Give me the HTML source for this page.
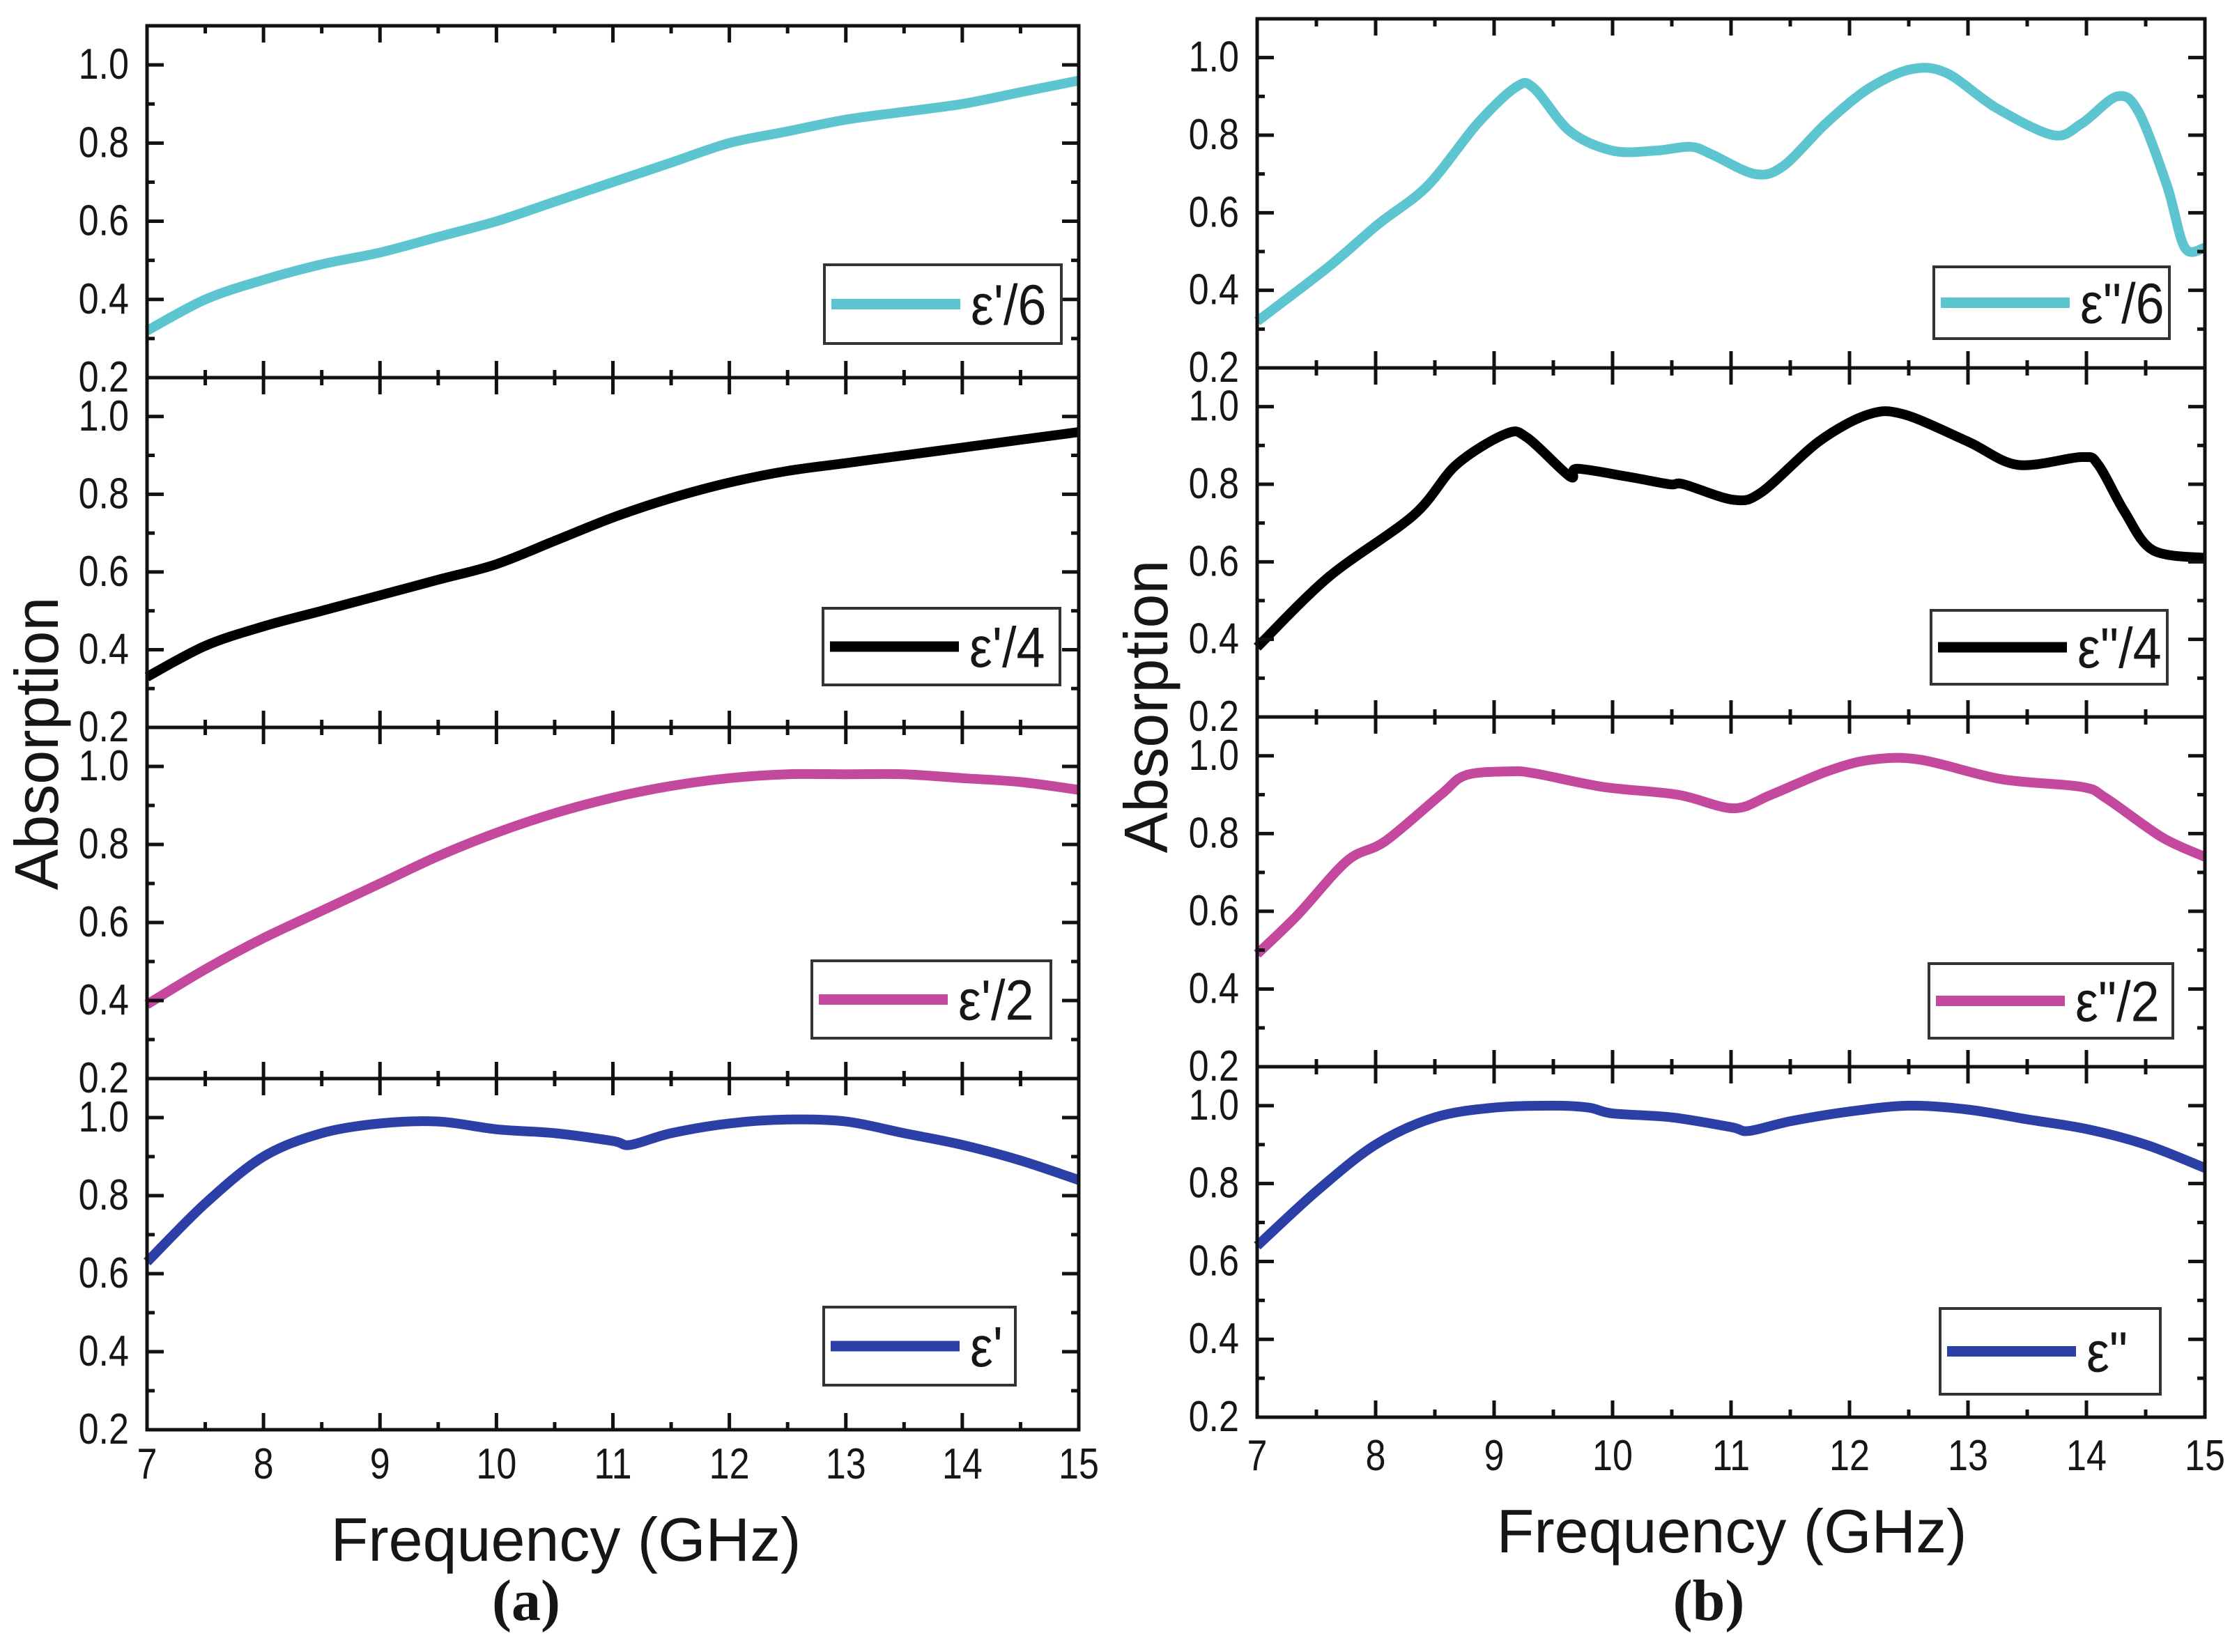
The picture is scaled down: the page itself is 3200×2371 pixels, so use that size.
<!DOCTYPE html>
<html><head><meta charset="utf-8"><style>
html,body{margin:0;padding:0;background:#fff;}
svg{display:block;}
text{font-family:"Liberation Sans",sans-serif;fill:#161616;}
</style></head><body>
<svg id="fig" width="3200" height="2371" viewBox="0 0 3200 2371" xmlns="http://www.w3.org/2000/svg"></svg>
<script>
// ---- data ----
const xTicks = [7,8,9,10,11,12,13,14,15];
const yTicks = [0.2,0.4,0.6,0.8,1.0];
const yTickLabels = ["0.2","0.4","0.6","0.8","1.0"];

const aCyanX = [7,7.5,8,8.5,9,9.5,10,10.5,11,11.5,12,12.5,13,13.5,14,14.5,15];
const aCyanY = [0.32,0.40,0.45,0.49,0.52,0.56,0.60,0.65,0.70,0.75,0.80,0.83,0.86,0.88,0.90,0.93,0.96];
const aBlackX = [7,7.5,8,8.5,9,9.5,10,10.5,11,11.5,12,12.5,13,13.5,14,14.5,15];
const aBlackY = [0.33,0.41,0.46,0.50,0.54,0.58,0.62,0.68,0.74,0.79,0.83,0.86,0.88,0.90,0.92,0.94,0.96];
const aMagX = [7,7.5,8,8.5,9,9.5,10,10.5,11,11.5,12,12.5,13,13.5,14,14.5,15];
const aMagY = [0.39,0.48,0.56,0.63,0.70,0.77,0.83,0.88,0.92,0.95,0.97,0.98,0.98,0.98,0.97,0.96,0.94];
const aBlueX = [7,7.5,8,8.5,9,9.5,10,10.5,11,11.15,11.5,12,12.5,13,13.5,14,14.5,15];
const aBlueY = [0.63,0.78,0.90,0.96,0.985,0.99,0.97,0.96,0.94,0.93,0.96,0.985,0.995,0.99,0.96,0.93,0.89,0.84];

const bCyanX = [7,7.6,8.02,8.44,8.86,9.19,9.34,9.64,10.0,10.36,10.66,10.84,11.2,11.44,11.8,12.16,12.52,12.82,13.24,13.72,13.96,14.26,14.44,14.68,14.83,15];
const bCyanY = [0.32,0.46,0.57,0.67,0.83,0.925,0.92,0.81,0.76,0.76,0.77,0.75,0.70,0.72,0.83,0.92,0.97,0.96,0.87,0.80,0.83,0.90,0.86,0.67,0.51,0.51];
const bBlackX = [7,7.6,8.32,8.68,9.1,9.28,9.64,9.7,10.12,10.48,10.6,11.02,11.26,11.74,12.16,12.46,13.0,13.42,13.96,14.1,14.32,14.56,15];
const bBlackY = [0.38,0.56,0.72,0.85,0.93,0.92,0.82,0.84,0.82,0.80,0.80,0.76,0.78,0.91,0.98,0.98,0.91,0.85,0.87,0.85,0.73,0.63,0.61];
const bMagX = [7,7.34,7.76,8.08,8.55,8.76,9.13,9.34,9.92,10.55,11.02,11.34,11.81,12.18,12.6,13.28,13.96,14.17,14.64,15];
const bMagY = [0.49,0.59,0.73,0.78,0.90,0.95,0.96,0.955,0.92,0.90,0.865,0.90,0.96,0.99,0.99,0.94,0.92,0.89,0.79,0.74];
const bBlueX = [7,7.5,8,8.5,9,9.5,9.8,10,10.5,11,11.15,11.5,12,12.5,13,13.5,14,14.5,15];
const bBlueY = [0.64,0.78,0.90,0.97,0.995,1.0,0.995,0.98,0.97,0.945,0.935,0.96,0.985,1.0,0.99,0.965,0.94,0.90,0.84];

const legendA = ["ε'/6","ε'/4","ε'/2","ε'"];
const legendB = ['ε"/6','ε"/4','ε"/2','ε"'];
const colors = ["#5cc5cf","#000000","#c4489d","#2c3fa6"];

// ---- layout ----
const NS = "http://www.w3.org/2000/svg";
const svg = document.getElementById('fig');
function mk(tag, attrs, parent){const e=document.createElementNS(NS,tag);for(const k in attrs)e.setAttribute(k,attrs[k]);(parent||svg).appendChild(e);return e;}
function smoothPath(P){
  let d='M'+P[0][0].toFixed(1)+','+P[0][1].toFixed(1);
  for(let i=0;i<P.length-1;i++){
    const p0=P[Math.max(0,i-1)],p1=P[i],p2=P[i+1],p3=P[Math.min(P.length-1,i+2)];
    const t=0.16;
    const c1=[p1[0]+(p2[0]-p0[0])*t,p1[1]+(p2[1]-p0[1])*t];
    const c2=[p2[0]-(p3[0]-p1[0])*t,p2[1]-(p3[1]-p1[1])*t];
    d+='C'+c1[0].toFixed(1)+','+c1[1].toFixed(1)+' '+c2[0].toFixed(1)+','+c2[1].toFixed(1)+' '+p2[0].toFixed(1)+','+p2[1].toFixed(1);
  }
  return d;
}

const figs = [
  {x0:211,x1:1548,tops:[37,542,1044,1548,2052],legend:legendA,
   series:[[aCyanX,aCyanY],[aBlackX,aBlackY],[aMagX,aMagY],[aBlueX,aBlueY]],
   boxes:[[1183,380,1523,493],[1181,873,1521,983],[1165,1379,1508,1490],[1182,1876,1457,1988]],
   xLabY:2122, title:[812,2240], tag:"(a)", tagPos:[755,2325], absX:83, absY:1067, name:"a"},
  {x0:1804,x1:3164,tops:[27,528,1029,1531,2034],legend:legendB,
   series:[[bCyanX,bCyanY],[bBlackX,bBlackY],[bMagX,bMagY],[bBlueX,bBlueY]],
   boxes:[[2775,383,3113,486],[2771,876,3110,982],[2768,1383,3118,1490],[2784,1878,3100,2001]],
   xLabY:2110, title:[2485,2228], tag:"(b)", tagPos:[2452,2325], absX:1675, absY:1014, name:"b"}
];
const YMIN=0.2, YMAX=1.1;

figs.forEach((f)=>{
  const g = mk('g',{});
  
  
  const xs = v => f.x0 + (v-7)/8*(f.x1-f.x0);
  for(let p=0;p<4;p++){
    const top=f.tops[p], bot=f.tops[p+1];
    const ys = v => bot - (v-YMIN)/(YMAX-YMIN)*(bot-top);
    const pg = mk('g',{},g);
    
    
    const [sx,sy]=f.series[p];
    const pts=sx.map((v,i)=>[xs(v),ys(sy[i])]);
    const line=mk('path',{d:smoothPath(pts),fill:'none',stroke:colors[p],'stroke-width':14,'stroke-linejoin':'round','stroke-linecap':'butt'},pg);
    
    
    const fr=mk('rect',{x:f.x0,y:top,width:f.x1-f.x0,height:bot-top,fill:'none',stroke:'#111','stroke-width':5},pg);
    
    
    for(let v=2; v<=11; v++){
      const val=v/10, y=ys(val), major=(v%2===0);
      const L = major?24:11;
      mk('line',{x1:f.x0,x2:f.x0+L,y1:y,y2:y,stroke:'#111','stroke-width':5},pg);
      mk('line',{x1:f.x1,x2:f.x1-L,y1:y,y2:y,stroke:'#111','stroke-width':5},pg);
    }
    yTicks.forEach((v,i)=>{
      const t=mk('text',{x:0,y:0,'font-size':62,'text-anchor':'end',transform:`translate(${f.x0-26},${ys(v)+20}) scale(0.84,1)`},pg);
      t.textContent=yTickLabels[i];
      
      
    });
    for(let k=0;k<=16;k++){
      const v=7+k*0.5, x=xs(v), major=(k%2===0);
      const L=major?24:11;
      mk('line',{x1:x,x2:x,y1:bot,y2:bot-L,stroke:'#111','stroke-width':5},pg);
      mk('line',{x1:x,x2:x,y1:top,y2:top+L,stroke:'#111','stroke-width':5},pg);
    }
    const b=f.boxes[p];
    const lg=mk('g',{},pg);
    
    
    mk('rect',{x:b[0],y:b[1],width:b[2]-b[0],height:b[3]-b[1],fill:'#fff',stroke:'#333','stroke-width':4},lg);
    const my=(b[1]+b[3])/2;
    mk('line',{x1:b[0]+10,x2:b[0]+195,y1:my,y2:my,stroke:colors[p],'stroke-width':15},lg);
    const lt=mk('text',{x:0,y:0,'font-size':82,transform:`translate(${b[0]+210},${my+29}) scale(0.9,1)`},lg);
    lt.textContent=f.legend[p];
    
    
  }
  xTicks.forEach(v=>{
    const t=mk('text',{x:0,y:0,'font-size':62,'text-anchor':'middle',transform:`translate(${xs(v)},${f.xLabY}) scale(0.84,1)`},g);
    t.textContent=String(v);
    
    
  });
  const xt=mk('text',{x:f.title[0],y:f.title[1],'font-size':88,'text-anchor':'middle'},g);
  xt.textContent='Frequency (GHz)';
  
  
  const yt=mk('text',{x:0,y:0,'font-size':88,'text-anchor':'middle',transform:`translate(${f.absX},${f.absY}) rotate(-90)`},g);
  yt.textContent='Absorption';
  
  
  const tg=mk('text',{x:f.tagPos[0],y:f.tagPos[1],'font-size':84,'font-weight':'bold','text-anchor':'middle',style:'font-family:"Liberation Serif",serif'},g);
  tg.textContent=f.tag;
  
  
});
</script>
</body></html>
